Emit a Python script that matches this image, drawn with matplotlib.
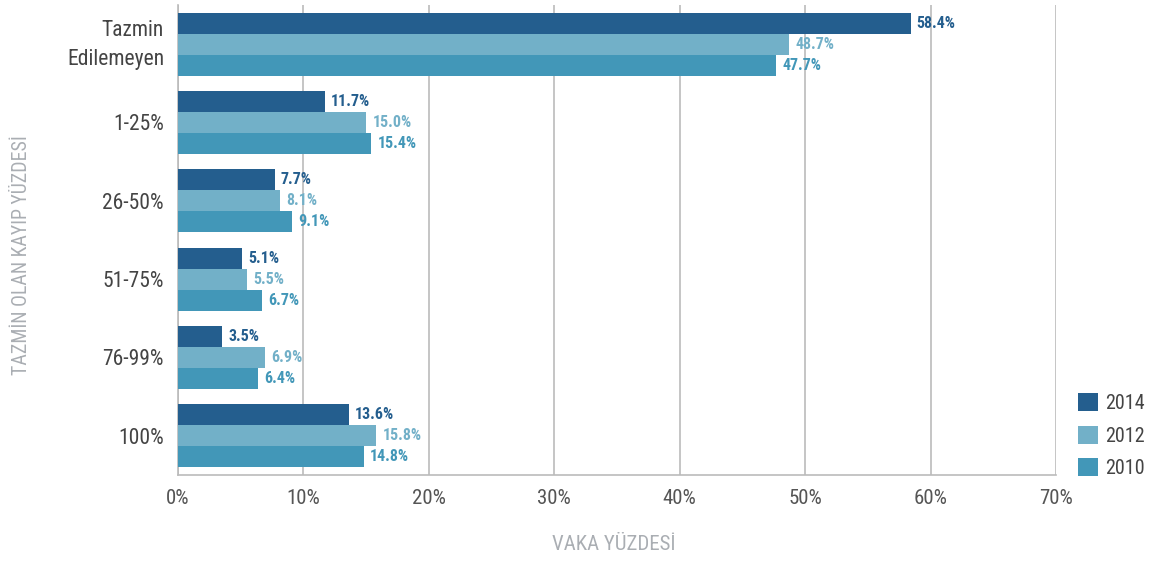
import matplotlib
matplotlib.use("Agg")
import matplotlib.pyplot as plt
import numpy as np
from matplotlib import font_manager
from matplotlib.transforms import ScaledTranslation

categories = ["Tazmin\nEdilemeyen", "1-25%", "26-50%", "51-75%", "76-99%", "100%"]
years = ["2014", "2012", "2010"]
v2014 = [58.4, 11.7, 7.7, 5.1, 3.5, 13.6]
v2012 = [48.7, 15.0, 8.1, 5.5, 6.9, 15.8]
v2010 = [47.7, 15.4, 9.1, 6.7, 6.4, 14.8]
xticks = [0, 10, 20, 30, 40, 50, 60, 70]

colors = ["#245E8E", "#72B0C8", "#4297B8"]
label_colors = ["#245E8E", "#72B0C8", "#4297B8"]

avail = {f.name for f in font_manager.fontManager.ttflist}
fam = [f for f in ["Roboto Condensed", "Liberation Sans Narrow", "Roboto", "DejaVu Sans"] if f in avail]
plt.rcParams['font.family'] = fam

fig = plt.figure(figsize=(11.53, 5.61), dpi=100)
ax = fig.add_axes([178/1153, 1-475/561, (1056-178)/1153, (475-5)/561])

n = len(categories)
y = np.arange(n)
bh = 0.268
series = [v2014, v2012, v2010]
for i, (vals, c, lc, yr) in enumerate(zip(series, colors, label_colors, years)):
    pos = y + (i - 1) * bh
    ax.barh(pos, vals, height=bh, color=c, label=yr, zorder=3)
    for p, v in zip(pos, vals):
        ax.text(v + 0.5, p, f"{v:.1f}%", va="center", ha="left", color=lc,
                fontsize=11.5, fontweight="bold", zorder=4)

ax.set_ylim(n - 0.5, -0.5)
ax.set_xlim(0, 70)
ax.set_xticks(xticks)
ax.set_xticklabels([f"{t}%" for t in xticks])
ax.set_yticks(y)
ax.set_yticklabels(categories, ha="right", multialignment="right", linespacing=1.55)
ax.tick_params(axis="y", length=0, pad=10, labelsize=15.5, labelcolor="#444444")
ax.tick_params(axis="x", length=0, pad=10, labelsize=15, labelcolor="#555555")
ax.xaxis.grid(True, color="#BBBBBB", linewidth=1.2, zorder=0)
for s in ["top", "right"]:
    ax.spines[s].set_visible(False)
ax.spines["left"].set_color("#BBBBBB")
ax.spines["bottom"].set_color("#BBBBBB")
ax.spines["left"].set_linewidth(1.2)
ax.spines["bottom"].set_linewidth(1.2)

first = ax.yaxis.get_major_ticks()[0].label1
first.set_transform(first.get_transform() + ScaledTranslation(0, 6/100, fig.dpi_scale_trans))

fig.text(22/1153, 1-255/561, "TAZMİN OLAN KAYIP YÜZDESİ", rotation=90, ha="center", va="center",
         color="#AAAEB3", fontsize=14.3)
fig.text(614/1153, 1-545/561, "VAKA YÜZDESİ", ha="center", va="center", color="#AAAEB3", fontsize=15)

leg = fig.legend(loc="lower left", bbox_to_anchor=(1078/1153, 1-478/561), frameon=False,
                 fontsize=14.5, handlelength=1.0, handleheight=1.0, labelspacing=0.62,
                 handletextpad=0.35, borderpad=0, borderaxespad=0)
for t in leg.get_texts():
    t.set_color("#444444")

fig.savefig("out.png", dpi=100)
